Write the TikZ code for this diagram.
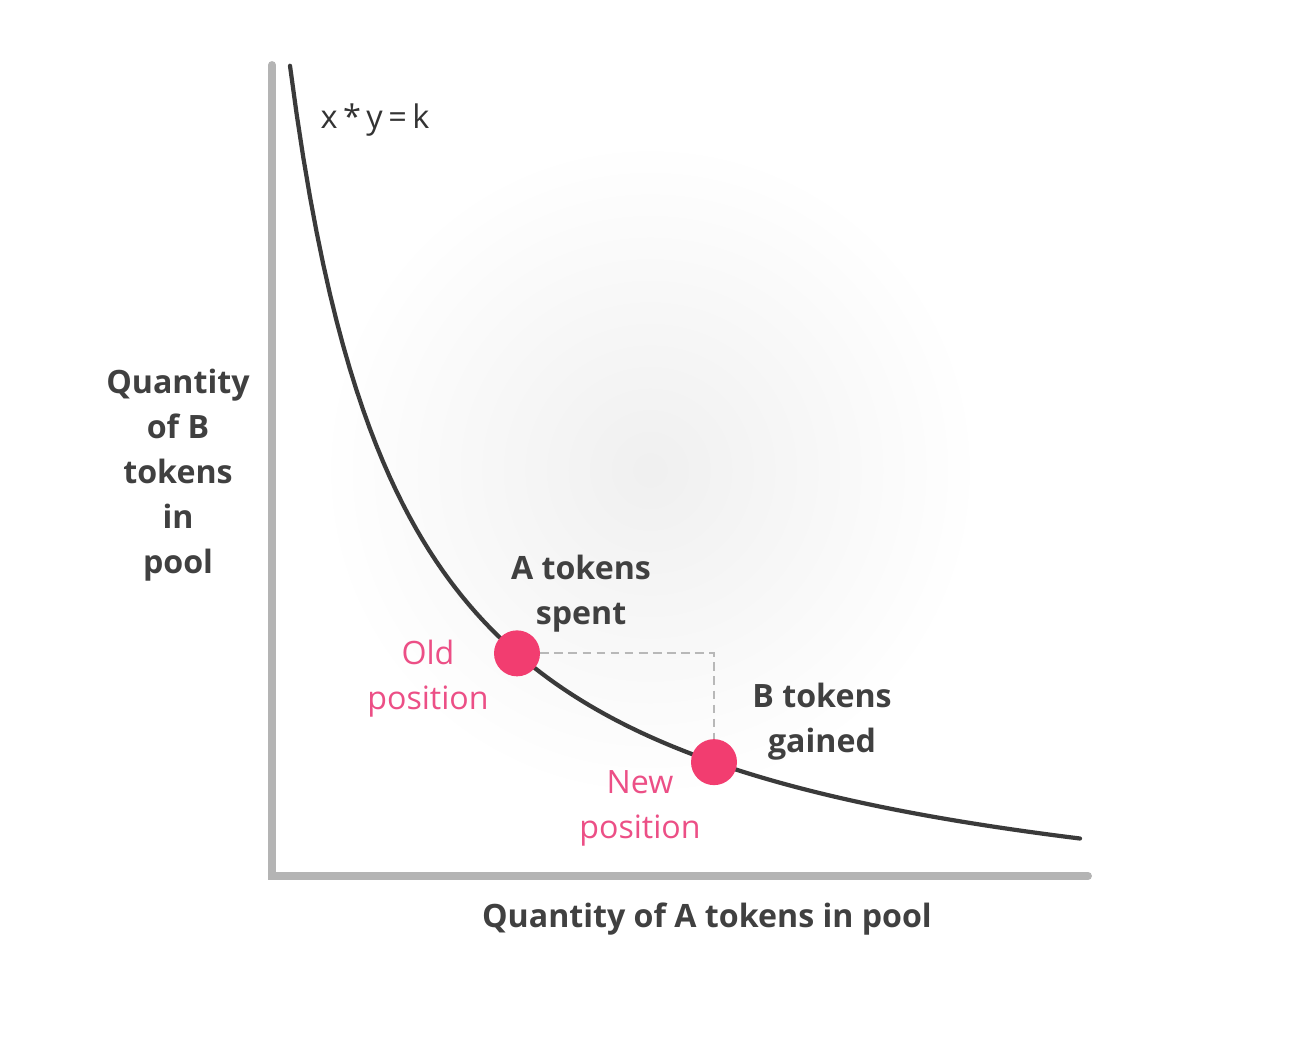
\documentclass[tikz,border=0pt]{standalone}
\usepackage{fontspec}
\setmainfont{Open Sans}
\usetikzlibrary{positioning,calc}
\definecolor{axisgray}{HTML}{B4B4B4}
\definecolor{curvedark}{HTML}{3A3A3A}
\definecolor{dotpink}{HTML}{F23D70}
\definecolor{textpink}{HTML}{EC4F86}
\definecolor{textdark}{HTML}{404040}
\begin{document}
\begin{tikzpicture}[x=0.02cm,y=-0.02cm,
	lbl/.style={align=center,text=textdark,font=\fontsize{18.3}{25.6}\selectfont\bfseries},
	pinklbl/.style={align=center,text=textpink,font=\fontsize{18.3}{25.6}\selectfont},
	dot/.style={circle,fill=dotpink,inner sep=0pt,minimum size=0.92cm}]
		\useasboundingbox (0,0) rectangle (1302,1038);
		\shade[inner color=black!6,outer color=white] (650,470) circle (330);
		% axes
		\coordinate (top) at (272,65);
		\coordinate (orig) at (272,876);
		\coordinate (right) at (1088,876);
		\draw[axisgray,line width=4.5pt,line cap=round] (top) -- (orig) -- (right);
		% curve x*y=k
		\draw[curvedark,line width=2.4pt,line cap=round,domain=290:1080,samples=120] plot (\x,{951-1018/((\x-175)/100)});
		\node[text=black!80,font=\fontsize{18.5}{20}\selectfont] (eq) at (375,120) {x\,*\,y\,=\,k};
		\node[dot] (old) at (517,{951-1018/3.42}) {};
		\node[dot] (new) at (714,{951-1018/5.39}) {};
		\draw[black!28,dash pattern=on 5pt off 3pt,line width=1pt] (old) -| (new.north);
		\node[lbl] (spent) at (581,594) {A tokens\\spent};
		\node[lbl] (gained) at (822,722) {B tokens\\gained};
		\node[pinklbl] (oldlbl) at (428,679) {Old\\position};
		\node[pinklbl] (newlbl) at (640,808) {New\\position};
		\node[lbl] (ylbl) at (178,475) {Quantity\\of B\\tokens\\in\\pool};
		\node[lbl] (xlbl) at (707,919) {Quantity of A tokens in pool};
\end{tikzpicture}
\end{document}
